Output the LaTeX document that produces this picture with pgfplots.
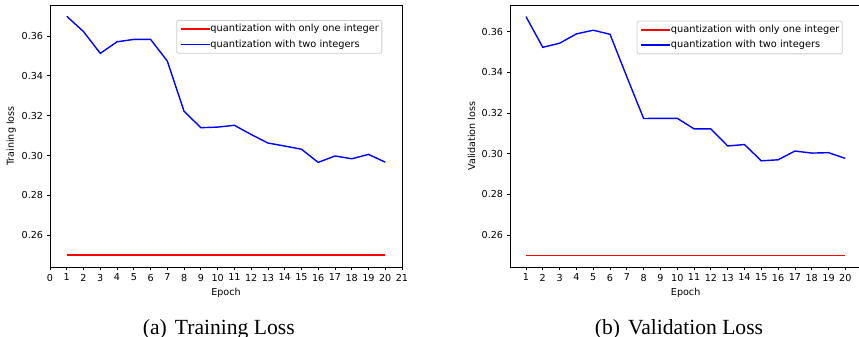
\documentclass[border=0pt]{standalone}
\usepackage{fontspec}
\setmainfont{DejaVu Sans}
\newfontfamily\capfont{Liberation Serif}
\usepackage{pgfplots}
\pgfplotsset{compat=1.18}
\definecolor{myred}{RGB}{255,0,0}
\definecolor{myblue}{RGB}{0,0,255}
\pgfplotsset{
  mystyle/.style={
    scale only axis,
    height=262bp,
    axis line style={black, line width=0.8bp},
    tick align=outside,
    major tick length=3.4bp,
    tick style={black, line width=0.8bp},
    xtick pos=bottom, ytick pos=left,
    tick label style={font=\fontsize{9.6bp}{11bp}\selectfont},
    /pgf/number format/assume math mode=true,
    yticklabel style={/pgf/number format/.cd, fixed, fixed zerofill, precision=2},
    ytick={0.26,0.28,0.30,0.32,0.34,0.36},
    xlabel={Epoch},
    label style={font=\fontsize{9.6bp}{11bp}\selectfont},
    xlabel style={at={(axis description cs:0.5,0)}, anchor=base, yshift=-28.7bp},
    legend cell align=left,
    legend image code/.code={\draw[#1] (0bp,0bp) -- (21.3bp,0bp); \path (0bp,0bp) -- (29bp,0bp);},
    legend style={font=\fontsize{9.8bp}{11bp}\selectfont, draw=black!20, line width=0.8bp,
      rounded corners=2bp, fill=white,
      inner xsep=3bp, inner ysep=1bp, row sep=0bp, column sep=0bp,
      nodes={inner xsep=0bp, inner ysep=3bp, text height=7.3bp, text depth=2.1bp}},
  },
}
\begin{document}
\begin{tikzpicture}
\useasboundingbox (0,0) rectangle (859bp,337bp);
\begin{axis}[mystyle,
  at={(50bp,70bp)}, anchor=south west,
  width=352bp,
  xmin=0, xmax=21, ymin=0.2441, ymax=0.37556,
  xtick={0,1,...,21},
  ylabel={Training loss},
  ylabel style={at={(axis description cs:-0.1023,0.5)}, anchor=base, rotate=0},
  legend style={at={(axis description cs:0.9440,0.9427)}, anchor=north east},
]
\addplot[draw=myred, line width=1.8bp] coordinates {(1,0.25) (2,0.25) (3,0.25) (4,0.25) (5,0.25) (6,0.25) (7,0.25) (8,0.25) (9,0.25) (10,0.25) (11,0.25) (12,0.25) (13,0.25) (14,0.25) (15,0.25) (16,0.25) (17,0.25) (18,0.25) (19,0.25) (20,0.25)};
\addlegendentry{quantization with only one integer}
\addplot[draw=myblue, line width=1.4bp] coordinates {(1,0.3699) (2,0.3622) (3,0.3513) (4,0.3571) (5,0.3583) (6,0.3583) (7,0.3474) (8,0.3222) (9,0.3140) (10,0.3143) (11,0.3152) (12,0.3106) (13,0.3063) (14,0.3048) (15,0.3032) (16,0.2966) (17,0.2998) (18,0.2984) (19,0.3006) (20,0.2967)};
\addlegendentry{quantization with two integers}
\end{axis}
\begin{axis}[mystyle,
  at={(510bp,70bp)}, anchor=south west,
  width=351.3bp,
  xmin=0.05, xmax=20.95, ymin=0.2443, ymax=0.3731,
  xtick={1,2,...,20},
  ylabel={Validation loss},
  ylabel style={at={(axis description cs:-0.0996,0.5)}, anchor=base, rotate=0},
  legend style={at={(axis description cs:0.9471,0.9401)}, anchor=north east},
]
\addplot[draw=myred, line width=1.8bp] coordinates {(1,0.25) (2,0.25) (3,0.25) (4,0.25) (5,0.25) (6,0.25) (7,0.25) (8,0.25) (9,0.25) (10,0.25) (11,0.25) (12,0.25) (13,0.25) (14,0.25) (15,0.25) (16,0.25) (17,0.25) (18,0.25) (19,0.25) (20,0.25)};
\addlegendentry{quantization with only one integer}
\addplot[draw=myblue, line width=1.4bp] coordinates {(1,0.3674) (2,0.3523) (3,0.3543) (4,0.3589) (5,0.3607) (6,0.3587) (7,0.3378) (8,0.3173) (9,0.3174) (10,0.3174) (11,0.3122) (12,0.3122) (13,0.3038) (14,0.3045) (15,0.2965) (16,0.2970) (17,0.3013) (18,0.3003) (19,0.3005) (20,0.2977)};
\addlegendentry{quantization with two integers}
\end{axis}
\node[anchor=base, font=\capfont\fontsize{21.6bp}{24bp}\selectfont] at (218.8bp,2.5bp) {(a)\hspace{0.37em}Training Loss};
\node[anchor=base, font=\capfont\fontsize{21.6bp}{24bp}\selectfont] at (679bp,2.5bp) {(b)\hspace{0.37em}Validation Loss};
\end{tikzpicture}
\end{document}
